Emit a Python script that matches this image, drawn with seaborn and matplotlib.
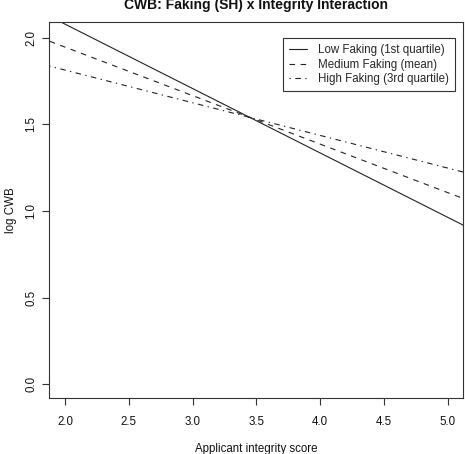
import matplotlib
matplotlib.use("Agg")
import matplotlib.pyplot as plt
import seaborn as sns
import pandas as pd

# Data (predicted log CWB at two integrity scores)
integrity = [1.8, 5.2]
low_faking = [2.153, 0.889]
medium_faking = [2.002, 1.050]
high_faking = [1.851, 1.210]
series_names = ["Low Faking (1st quartile)", "Medium Faking (mean)", "High Faking (3rd quartile)"]
x_ticks = [2.0, 2.5, 3.0, 3.5, 4.0, 4.5, 5.0]
y_ticks = [0.0, 0.5, 1.0, 1.5, 2.0]

df = pd.DataFrame({
    "Integrity": integrity * 3,
    "logCWB": low_faking + medium_faking + high_faking,
    "Faking": [series_names[0]] * 2 + [series_names[1]] * 2 + [series_names[2]] * 2,
})

sns.set_theme(style="ticks")
plt.rcParams["font.family"] = ["Liberation Sans", "DejaVu Sans"]
fs = 8.3

fig = plt.figure(figsize=(4.65, 4.54), dpi=100)
ax = fig.add_axes([49 / 465, 1 - 398.3 / 454, (463.3 - 49) / 465, (398.3 - 22.3) / 454])

sns.lineplot(data=df, x="Integrity", y="logCWB", style="Faking", style_order=series_names,
             dashes=["", (5, 5), (1.2, 4, 5, 4)], color="#222222", linewidth=0.8,
             ax=ax, legend=True)

ax.set_xlim(1.875, 5.122)
ax.set_ylim(-0.081, 2.089)
ax.set_xticks(x_ticks)
ax.set_xticklabels([f"{v:.1f}" for v in x_ticks], fontsize=fs)
ax.set_yticks(y_ticks)
ax.set_yticklabels([f"{v:.1f}" for v in y_ticks], fontsize=fs, rotation=90, va="center")
ax.tick_params(axis="both", length=5, width=0.8, color="#333333", labelcolor="#111111")
ax.tick_params(axis="x", pad=8)
ax.tick_params(axis="y", pad=3.5)
for s in ax.spines.values():
    s.set_visible(True)
    s.set_linewidth(0.8)
    s.set_color("#333333")

ax.set_xlabel("Applicant integrity score", fontsize=fs, color="#111111", labelpad=10.5)
ax.set_ylabel("log CWB", fontsize=fs, color="#111111", labelpad=6)

handles, labels = ax.get_legend_handles_labels()
leg = ax.legend(handles, labels, loc="upper right", bbox_to_anchor=(0.98, 0.958),
                borderaxespad=0, fontsize=fs, frameon=True, fancybox=False, framealpha=1,
                edgecolor="#333333", handlelength=1.6, handletextpad=0.9,
                labelspacing=0.2, borderpad=0.55, title=None)
leg.get_frame().set_linewidth(0.8)

fig.text(256 / 465, 1 - 8.5 / 454, "CWB: Faking (SH) x Integrity Interaction",
         ha="center", va="baseline", fontsize=10, fontweight="bold", color="#111111")

fig.savefig("out.png", dpi=100)
